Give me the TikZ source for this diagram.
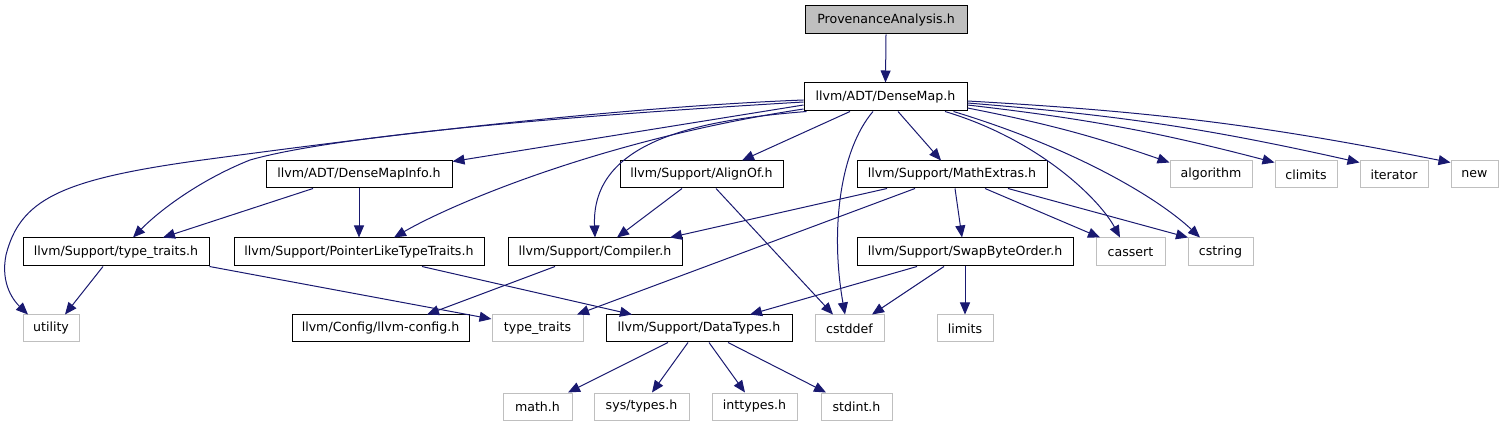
\documentclass[tikz,border=0pt]{standalone}
\usepackage{fontspec}
\setmainfont{DejaVu Sans}
\usetikzlibrary{arrows.meta}
\definecolor{edgeblue}{HTML}{191970}
\definecolor{lgray}{HTML}{BFBFBF}
\tikzset{
  box/.style={draw=black, line width=1pt, inner sep=0pt, font=\fontsize{12.6}{14}\selectfont},
  sysbox/.style={draw=lgray, line width=1pt, inner sep=0pt, font=\fontsize{12.6}{14}\selectfont},
  dep/.style={draw=edgeblue, line width=1pt, -{Triangle[length=12pt,width=10pt]}},
}
\begin{document}
\begin{tikzpicture}[x=1pt,y=-1pt]
\useasboundingbox (0,0) rectangle (1509,427);
% row 0
\node[box, fill=lgray, minimum width=162pt, minimum height=28pt] (prov) at (886,20) {ProvenanceAnalysis.h};
% row 1
\node[box, minimum width=163pt, minimum height=28pt] (dm) at (885.5,97) {llvm/ADT/DenseMap.h};
% row 2
\node[box, minimum width=186pt, minimum height=27pt] (dmi) at (359,174.5) {llvm/ADT/DenseMapInfo.h};
\node[box, minimum width=163pt, minimum height=27pt] (align) at (701.5,174.5) {llvm/Support/AlignOf.h};
\node[box, minimum width=190pt, minimum height=27pt] (math) at (952,174.5) {llvm/Support/MathExtras.h};
\node[sysbox, minimum width=82pt, minimum height=27pt] (algorithm) at (1211,174.5) {algorithm};
\node[sysbox, minimum width=62pt, minimum height=27pt] (climits) at (1306,174.5) {climits};
\node[sysbox, minimum width=68pt, minimum height=27pt] (iterator) at (1394,174.5) {iterator};
\node[sysbox, minimum width=47pt, minimum height=27pt] (new) at (1474.5,174.5) {new};
% row 3
\node[box, minimum width=186pt, minimum height=28pt] (tt) at (116,252) {llvm/Support/type\_traits.h};
\node[box, minimum width=250pt, minimum height=28pt] (plt) at (359,252) {llvm/Support/PointerLikeTypeTraits.h};
\node[box, minimum width=174pt, minimum height=28pt] (comp) at (595,252) {llvm/Support/Compiler.h};
\node[box, minimum width=216pt, minimum height=28pt] (swap) at (965,252) {llvm/Support/SwapByteOrder.h};
\node[sysbox, minimum width=69pt, minimum height=28pt] (cassert) at (1130.5,252) {cassert};
\node[sysbox, minimum width=65pt, minimum height=28pt] (cstring) at (1220.5,252) {cstring};
% row 4
\node[sysbox, minimum width=56pt, minimum height=27pt] (utility) at (51,328.5) {utility};
\node[box, minimum width=177pt, minimum height=27pt] (cfg) at (380.5,328.5) {llvm/Config/llvm-config.h};
\node[sysbox, minimum width=91pt, minimum height=27pt] (stt) at (537.5,328.5) {type\_traits};
\node[box, minimum width=186pt, minimum height=27pt] (dt) at (699,328.5) {llvm/Support/DataTypes.h};
\node[sysbox, minimum width=69pt, minimum height=27pt] (cstddef) at (849.5,328.5) {cstddef};
\node[sysbox, minimum width=56pt, minimum height=27pt] (limits) at (965,328.5) {limits};
% row 5
\node[sysbox, minimum width=69pt, minimum height=27pt] (mathh) at (537.5,406.5) {math.h};
\node[sysbox, minimum width=95pt, minimum height=27pt] (systypes) at (641.5,406.5) {sys/types.h};
\node[sysbox, minimum width=85pt, minimum height=27pt] (inttypes) at (754.5,406.5) {inttypes.h};
\node[sysbox, minimum width=71pt, minimum height=27pt] (stdint) at (856.5,406.5) {stdint.h};

% edges
\draw[dep] (prov.south) -- (dm.north);
% DenseMap left side
\draw[dep] ([yshift=-3pt]dm.west) .. controls (600,108) and (350,140) .. (195,161)
  .. controls (60,180) and (20,200) .. (6,255) .. controls (0,285) and (15,302) .. ([xshift=-23pt]utility.north);
\draw[dep] ([yshift=-5pt]dm.west) .. controls (500,120) and (320,140) .. (250,160)
  .. controls (200,180) and (160,210) .. ([xshift=17pt]tt.north);
\draw[dep] ([yshift=-8pt]dm.west) -- ([yshift=-1pt]dmi.north east);
\draw[dep] ([yshift=-12pt]dm.west) .. controls (600,140) and (450,205) .. ([xshift=35pt]plt.north);
\draw[dep] ([xshift=-79pt]dm.south) .. controls (700,120) and (591,140) .. (comp.north);
\draw[dep] ([xshift=-35.5pt]dm.south) -- ([xshift=40.5pt]align.north);
\draw[dep] ([xshift=-12.5pt]dm.south) .. controls (840,150) and (830,230) .. ([xshift=-4.5pt]cstddef.north);
\draw[dep] ([xshift=12.5pt]dm.south) -- ([xshift=-11pt]math.north);
\draw[dep] ([xshift=59.5pt]dm.south) .. controls (1040,140) and (1100,200) .. ([xshift=-10.5pt]cassert.north);
\draw[dep] ([xshift=68pt]dm.south) .. controls (1080,150) and (1160,200) .. ([xshift=-20.5pt]cstring.north);
\draw[dep] ([yshift=-11pt]dm.east) to[bend left=4] ([yshift=-2pt]algorithm.north west);
\draw[dep] ([yshift=-8pt]dm.east) to[bend left=4] ([yshift=-2pt]climits.north west);
\draw[dep] ([yshift=-6pt]dm.east) to[bend left=4] ([yshift=-2pt]iterator.north west);
\draw[dep] ([yshift=-4pt]dm.east) to[bend left=4] ([yshift=-2pt]new.north west);
% DenseMapInfo
\draw[dep] ([xshift=-46pt]dmi.south) -- ([xshift=47pt]tt.north);
\draw[dep] (dmi.south) -- (plt.north);
% AlignOf
\draw[dep] ([xshift=-19.5pt]align.south) -- ([xshift=22pt]comp.north);
\draw[dep] ([xshift=14.5pt]align.south) -- ([xshift=-16.5pt]cstddef.north);
% MathExtras
\draw[dep] ([xshift=-65pt]math.south) -- ([xshift=75pt]comp.north);
\draw[dep] ([xshift=-37pt]math.south) -- ([xshift=39.5pt]stt.north);
\draw[dep] ([xshift=3pt]math.south) -- ([xshift=-3pt]swap.north);
\draw[dep] ([xshift=33pt]math.south) -- ([xshift=-30.5pt]cassert.north);
\draw[dep] ([xshift=56pt]math.south) -- ([xshift=-32.5pt]cstring.north);
% SwapByteOrder
\draw[dep] ([xshift=-48pt]swap.south) -- ([xshift=51pt]dt.north);
\draw[dep] ([xshift=-21pt]swap.south) -- ([xshift=22.5pt]cstddef.north);
\draw[dep] (swap.south) -- (limits.north);
% type_traits.h
\draw[dep] ([xshift=-13pt]tt.south) -- ([xshift=14pt]utility.north);
\draw[dep] (tt.south east) -- ([yshift=9.5pt]stt.west);
% PointerLikeTypeTraits
\draw[dep] ([xshift=63pt]plt.south) -- ([xshift=-67pt]dt.north);
% Compiler
\draw[dep] ([xshift=-40pt]comp.south) -- ([xshift=46.5pt]cfg.north);
% DataTypes
\draw[dep] ([xshift=-31pt]dt.south) -- ([xshift=30.5pt]mathh.north);
\draw[dep] ([xshift=-11pt]dt.south) -- ([xshift=10.5pt]systypes.north);
\draw[dep] ([xshift=10pt]dt.south) -- ([xshift=-9.5pt]inttypes.north);
\draw[dep] ([xshift=29pt]dt.south) -- ([xshift=-30.5pt]stdint.north);
\end{tikzpicture}
\end{document}
